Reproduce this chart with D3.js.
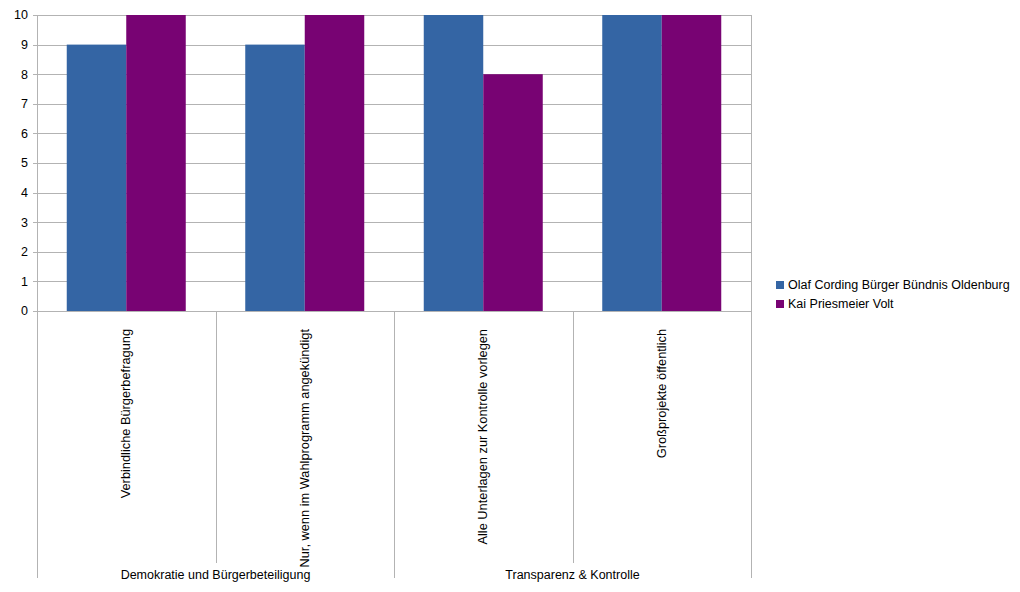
<!DOCTYPE html>
<html>
<head>
<meta charset="utf-8">
<script src="https://cdn.jsdelivr.net/npm/d3@7/dist/d3.min.js"></script>
<style>
  body { margin: 0; background: #fff; }
  text { font-family: "Liberation Sans", Arial, sans-serif; font-size: 12.5px; fill: #000; }
</style>
</head>
<body>
<div id="chart"></div>
<script>
var categories = ['Verbindliche Bürgerbefragung', 'Nur, wenn im Wahlprogramm angekündigt', 'Alle Unterlagen zur Kontrolle vorlegen', 'Großprojekte öffentlich']
var groups = ['Demokratie und Bürgerbeteiligung', 'Transparenz & Kontrolle']
var groupSizes = [2, 2]
var seriesNames = ['Olaf Cording Bürger Bündnis Oldenburg', 'Kai Priesmeier Volt']
var cordingValues = [9, 9, 10, 10]
var priesmeierValues = [10, 10, 8, 10]
var yTicks = [0, 1, 2, 3, 4, 5, 6, 7, 8, 9, 10]
var colors = ['#3465a4', '#780373']

var series = [cordingValues, priesmeierValues]

var plotLeft = 37, plotRight = 751, plotTop = 15, plotBottom = 311

var svg = d3.select('#chart').append('svg')
  .attr('width', 1020)
  .attr('height', 592)

var x = d3.scaleBand()
  .domain(categories)
  .range([plotLeft, plotRight])
  .paddingInner(1 / 3)
  .paddingOuter(1 / 6)

var x1 = d3.scaleBand()
  .domain(d3.range(series.length))
  .range([0, x.bandwidth()])

var y = d3.scaleLinear()
  .domain([0, 10])
  .range([plotBottom, plotTop])

// gridlines
svg.append('g')
  .selectAll('line').data(yTicks).enter().append('line')
  .attr('x1', plotLeft - 4)
  .attr('x2', plotRight)
  .attr('y1', function(d) { return Math.round(y(d)) + 0.5 })
  .attr('y2', function(d) { return Math.round(y(d)) + 0.5 })
  .attr('stroke', '#b3b3b3')

// y axis line + right border
svg.append('line')
  .attr('x1', plotLeft + 0.5).attr('x2', plotLeft + 0.5)
  .attr('y1', plotTop).attr('y2', plotBottom)
  .attr('stroke', '#b3b3b3')
svg.append('line')
  .attr('x1', plotRight + 0.5).attr('x2', plotRight + 0.5)
  .attr('y1', plotTop).attr('y2', plotBottom)
  .attr('stroke', '#b3b3b3')

// y labels
svg.append('g')
  .selectAll('text').data(yTicks).enter().append('text')
  .attr('x', 28)
  .attr('y', function(d) { return y(d) })
  .attr('dy', '0.35em')
  .attr('text-anchor', 'end')
  .text(function(d) { return d })

// bars
series.forEach(function(vals, si) {
  svg.append('g')
    .selectAll('rect').data(vals).enter().append('rect')
    .attr('x', function(d, i) { return x(categories[i]) + x1(si) })
    .attr('width', x1.bandwidth())
    .attr('y', function(d) { return y(d) })
    .attr('height', function(d) { return y(0) - y(d) })
    .attr('fill', colors[si])
})

// baseline
svg.append('line')
  .attr('x1', plotLeft - 4).attr('x2', plotRight)
  .attr('y1', plotBottom + 0.5).attr('y2', plotBottom + 0.5)
  .attr('stroke', '#b3b3b3')

// category dividers
var step = x.step()
var catEdges = d3.range(categories.length + 1).map(function(i) { return plotLeft + i * step })
var groupEdges = [0]
groupSizes.forEach(function(s) { groupEdges.push(groupEdges[groupEdges.length - 1] + s) })

svg.append('g')
  .selectAll('line').data(catEdges).enter().append('line')
  .attr('x1', function(d) { return Math.round(d) + 0.5 })
  .attr('x2', function(d) { return Math.round(d) + 0.5 })
  .attr('y1', plotBottom)
  .attr('y2', function(d, i) { return groupEdges.indexOf(i) >= 0 ? 578 : 563 })
  .attr('stroke', '#b3b3b3')

// rotated category labels
svg.append('g')
  .selectAll('text').data(categories).enter().append('text')
  .attr('transform', function(d) {
    return 'translate(' + (x(d) + x.bandwidth() / 2 + 4) + ',329) rotate(-90)'
  })
  .attr('text-anchor', 'end')
  .style('font-size', '12.8px')
  .text(function(d) { return d })

// group labels
svg.append('g')
  .selectAll('text').data(groups).enter().append('text')
  .attr('x', function(d, i) { return (catEdges[groupEdges[i]] + catEdges[groupEdges[i + 1]]) / 2 })
  .attr('y', 579)
  .attr('text-anchor', 'middle')
  .text(function(d) { return d })

// legend
var legend = svg.append('g')
  .selectAll('g').data(seriesNames).enter().append('g')
  .attr('transform', function(d, i) { return 'translate(776,' + (281 + i * 19) + ')' })
legend.append('rect')
  .attr('width', 8).attr('height', 8)
  .attr('fill', function(d, i) { return colors[i] })
legend.append('text')
  .attr('x', 12).attr('y', 4)
  .attr('dy', '0.35em')
  .text(function(d) { return d })
</script>
</body>
</html>
